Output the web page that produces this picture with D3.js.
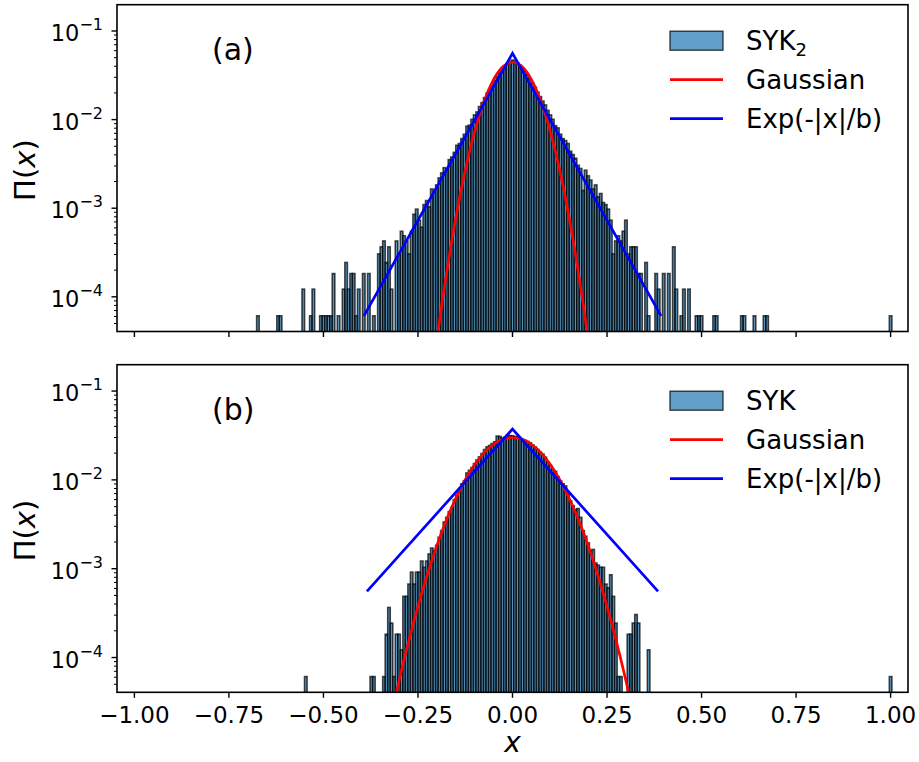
<!DOCTYPE html>
<html><head><meta charset="utf-8">
<script src="https://cdn.jsdelivr.net/npm/d3@7/dist/d3.min.js"></script>
<style>
body{margin:0;background:#fff}
text{font-family:"DejaVu Sans",sans-serif;fill:#000}
</style>
</head><body>
<svg id="chart" width="919" height="762"></svg>
<script>
// ---------------- data ----------------
const binWidth = 2 / 300;          // histogram bin width in x
const countUnit = 6.1e-5;          // Π value of a single count (1/N)

// panel (a): SYK2, counts per bin, first bin centred at binStartA
const binStartA = -101 * binWidth;
const countsA = [
  1,0,0,0,0,0,0,0,1,1,
  0,0,0,0,0,0,0,0,2,0,
  0,1,2,0,0,1,1,1,1,1,
  3,0,1,0,2,4,2,3,3,1,
  2,0,3,0,3,0,1,0,5,6,
  7,4,6,2,0,7,5,9,8,7,
  5,9,14,16,12,10,18,20,17,27,
  25,30,36,41,47,45,58,62,70,84,
  88,100,112,138,142,165,185,200,230,255,
  290,325,360,400,450,500,560,610,665,705,
  740,770,750,715,672,625,572,520,468,418,
  380,335,298,265,240,208,185,165,140,132,
  112,100,95,88,72,66,60,50,46,26,
  44,38,34,27,30,22,24,19,18,16,
  12,5,7,8,7,9,12,5,6,6,
  6,3,3,0,4,1,0,0,3,2,
  0,3,0,3,0,6,2,0,1,2,
  0,2,0,0,1,1,1,0,0,0,
  0,1,1,0,0,0,0,0,0,0,
  0,0,1,1,0,0,0,1,0,0,
  0,1,1,0
];
const outlierXA = [1.0];
const outlierCountA = [1];

// panel (b): SYK
const binStartB = -82 * binWidth;
const countsB = [
  1,0,0,0,0,0,0,0,0,0,
  0,0,0,0,0,0,0,0,0,0,
  0,0,0,0,0,0,1,1,0,0,
  0,1,3,6,4,1,3,3,2,8,
  8,11,15,11,15,15,20,17,20,24,
  28,26,30,37,44,55,62,72,80,98,
  110,122,148,160,196,210,225,250,275,298,
  325,360,386,400,420,440,510,505,485,495,
  520,515,515,505,500,490,470,458,445,430,
  405,385,360,335,320,295,262,238,215,205,
  178,160,148,140,115,95,84,76,78,62,
  44,38,32,26,27,19,18,17,17,11,
  10,14,8,4,1,1,0,0,3,3,
  4,5,4,0,0,0,2,0
];
const outlierXB = [1.0];
const outlierCountB = [1];

// Gaussian fit curves (x, Π)
const gaussXA = [-0.225,-0.2,-0.175,-0.15,-0.125,-0.1,-0.075,-0.05,-0.025,0,0.025,0.05,0.075,0.1,0.125,0.15,0.175,0.2,0.225];
const gaussYA = [4.9e-6,3.32e-5,1.79e-4,7.74e-4,2.67e-3,7.34e-3,1.613e-2,2.83e-2,3.97e-2,4.44e-2,3.97e-2,2.83e-2,1.613e-2,7.34e-3,2.67e-3,7.74e-4,1.79e-4,3.32e-5,4.9e-6];
const gaussXB = [-0.35,-0.325,-0.3,-0.275,-0.25,-0.225,-0.2,-0.175,-0.15,-0.125,-0.1,-0.075,-0.05,-0.025,0,0.025,0.05,0.075,0.1,0.125,0.15,0.175,0.2,0.225,0.25,0.275,0.3,0.325,0.35];
const gaussYB = [5.7e-6,1.84e-5,5.49e-5,1.50e-4,3.76e-4,8.66e-4,1.824e-3,3.51e-3,6.20e-3,1.004e-2,1.490e-2,2.024e-2,2.518e-2,2.872e-2,3.00e-2,2.872e-2,2.518e-2,2.024e-2,1.490e-2,1.004e-2,6.20e-3,3.51e-3,1.824e-3,8.66e-4,3.76e-4,1.50e-4,5.49e-5,1.84e-5,5.7e-6];

// Exponential fit curves (x, Π)
const expXA = [-0.393, 0, 0.393];
const expYA = [6.1e-5, 0.0561, 6.1e-5];
const expXB = [-0.385, 0, 0.385];
const expYB = [5.55e-4, 0.0373, 5.55e-4];

// axes
const xDomain = [-1.046, 1.046];
const yDomain = [4.06e-5, 0.198];
const xTicks = [-1, -0.75, -0.5, -0.25, 0, 0.25, 0.5, 0.75, 1];
const xTickLabels = ["\u22121.00","\u22120.75","\u22120.50","\u22120.25","0.00","0.25","0.50","0.75","1.00"];
const yTickExps = [-1, -2, -3, -4];
const legendLabelsA = ["SYK", "Gaussian", "Exp(-|x|/b)"];
const legendLabelsB = ["SYK", "Gaussian", "Exp(-|x|/b)"];

// ---------------- drawing ----------------
const svg = d3.select("#chart");
const L = 117, R = 908;
const panels = [
  {top: 4.7, bottom: 331.5, start: binStartA, counts: countsA, ox: outlierXA, oc: outlierCountA,
   gx: gaussXA, gy: gaussYA, ex: expXA, ey: expYA, label: "(a)", sub: "2", legend: legendLabelsA, showX: false},
  {top: 364.7, bottom: 692.3, start: binStartB, counts: countsB, ox: outlierXB, oc: outlierCountB,
   gx: gaussXB, gy: gaussYB, ex: expXB, ey: expYB, label: "(b)", sub: "", legend: legendLabelsB, showX: true}
];

const x = d3.scaleLinear().domain(xDomain).range([L, R]);
const barFill = "rgba(31,119,180,0.7)";
const barStroke = "rgba(0,0,0,0.72)";

panels.forEach((p, pi) => {
  const y = d3.scaleLog().domain(yDomain).range([p.bottom, p.top]);
  const g = svg.append("g");
  const clipId = "clip" + pi;
  svg.append("clipPath").attr("id", clipId).append("rect")
    .attr("x", L).attr("y", p.top).attr("width", R - L).attr("height", p.bottom - p.top);
  const plot = g.append("g").attr("clip-path", `url(#${clipId})`);

  const bins = p.counts.map((c, i) => ({xc: p.start + i * binWidth, c}))
    .concat(p.ox.map((v, i) => ({xc: v, c: p.oc[i]})))
    .filter(d => d.c > 0);
  plot.selectAll("rect.bar").data(bins).enter().append("rect")
    .attr("class", "bar")
    .attr("x", d => x(d.xc - binWidth / 2))
    .attr("width", d => x(d.xc + binWidth / 2) - x(d.xc - binWidth / 2))
    .attr("y", d => y(d.c * countUnit))
    .attr("height", d => p.bottom + 5 - y(d.c * countUnit))
    .attr("fill", barFill).attr("stroke", barStroke).attr("stroke-width", 1.6);

  const gline = d3.line().x(d => x(d[0])).y(d => y(d[1])).curve(d3.curveNatural);
  plot.append("path").datum(p.gx.map((v, i) => [v, p.gy[i]]))
    .attr("d", gline).attr("fill", "none").attr("stroke", "#ff0000").attr("stroke-width", 2.7);
  const eline = d3.line().x(d => x(d[0])).y(d => y(d[1]));
  plot.append("path").datum(p.ex.map((v, i) => [v, p.ey[i]]))
    .attr("d", eline).attr("fill", "none").attr("stroke", "#0000ff").attr("stroke-width", 2.7);

  // frame
  g.append("rect").attr("x", L).attr("y", p.top).attr("width", R - L).attr("height", p.bottom - p.top)
    .attr("fill", "none").attr("stroke", "#000").attr("stroke-width", 1.6);

  // y ticks
  const minor = [];
  for (let e = -5; e <= -1; e++) for (let m = 2; m <= 9; m++) {
    const v = m * Math.pow(10, e);
    if (v >= yDomain[0] && v <= yDomain[1]) minor.push(v);
  }
  g.selectAll("line.ymin").data(minor).enter().append("line")
    .attr("x1", L).attr("x2", L - 3).attr("y1", d => y(d)).attr("y2", d => y(d))
    .attr("stroke", "#000").attr("stroke-width", 1);
  yTickExps.forEach(e => {
    const yy = y(Math.pow(10, e));
    g.append("line").attr("x1", L).attr("x2", L - 5.5).attr("y1", yy).attr("y2", yy)
      .attr("stroke", "#000").attr("stroke-width", 1.4);
    const t = g.append("text").attr("x", 103).attr("y", yy + 10).attr("text-anchor", "end")
      .style("font-size", "22.5px");
    t.append("tspan").text("10");
    t.append("tspan").attr("dy", -11).style("font-size", "16px").text("\u2212" + Math.abs(e));
  });

  // x ticks
  xTicks.forEach((v, i) => {
    g.append("line").attr("x1", x(v)).attr("x2", x(v)).attr("y1", p.bottom).attr("y2", p.bottom + 5.5)
      .attr("stroke", "#000").attr("stroke-width", 1.4);
    if (p.showX) {
      g.append("text").attr("x", x(v)).attr("y", p.bottom + 31).attr("text-anchor", "middle")
        .style("font-size", "23px").text(xTickLabels[i]);
    }
  });

  // y label
  const yl = g.append("text").attr("transform", `translate(35,${(p.top + p.bottom) / 2 + 2}) rotate(-90)`)
    .attr("text-anchor", "middle").style("font-size", "29px");
  yl.append("tspan").text("\u03a0(");
  yl.append("tspan").style("font-style", "italic").text("x");
  yl.append("tspan").text(")");

  // panel label
  g.append("text").attr("x", 212).attr("y", p.top + 55).style("font-size", "30px").text(p.label);

  // legend
  const lx = 670, lw = 53, rows = [p.top + 36, p.top + 75, p.top + 114];
  g.append("rect").attr("x", lx).attr("y", rows[0] - 9.5).attr("width", lw).attr("height", 19)
    .attr("fill", barFill).attr("stroke", barStroke).attr("stroke-width", 1.4);
  g.append("line").attr("x1", lx).attr("x2", lx + lw).attr("y1", rows[1]).attr("y2", rows[1])
    .attr("stroke", "#ff0000").attr("stroke-width", 2.7);
  g.append("line").attr("x1", lx).attr("x2", lx + lw).attr("y1", rows[2]).attr("y2", rows[2])
    .attr("stroke", "#0000ff").attr("stroke-width", 2.7);
  p.legend.forEach((lab, i) => {
    const t = g.append("text").attr("x", 746).attr("y", rows[i] + 9.5).style("font-size", "26px");
    t.append("tspan").text(lab);
    if (i === 0 && p.sub) t.append("tspan").attr("dy", 6).style("font-size", "18px").text(p.sub);
  });
});

// x label
svg.append("text").attr("x", x(0)).attr("y", 752).attr("text-anchor", "middle")
  .style("font-size", "28px").style("font-style", "italic").text("x");
</script>
</body></html>
